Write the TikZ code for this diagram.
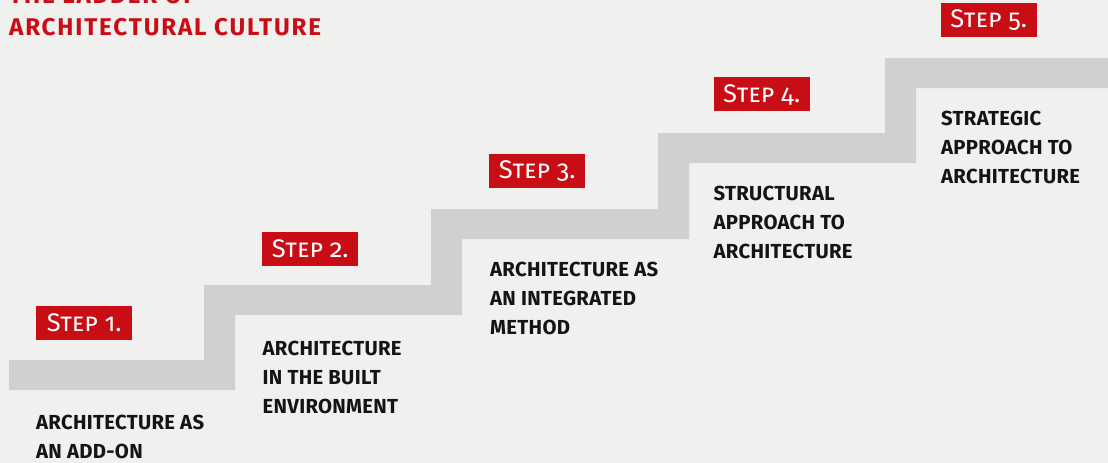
\documentclass[tikz,border=0pt]{standalone}
\usepackage{fontspec}
\setmainfont{Fira Sans}
\newfontfamily\stepfont[Numbers=OldStyle]{Fira Sans}
\newfontfamily\titlefont[LetterSpace=7.5]{Fira Sans}
\newfontfamily\descfont[LetterSpace=1.5]{Fira Sans}
\definecolor{bgc}{HTML}{F0F0EE}
\definecolor{bandc}{HTML}{D0D0D0}
\definecolor{redc}{HTML}{C90D15}
\definecolor{inkc}{HTML}{141414}
\tikzset{
  titletext/.style={anchor=base west, inner sep=0pt, text=redc, font=\titlefont\fontsize{24.2}{24.2}\selectfont\bfseries},
  steplabel/.style={fill=redc, text=white, inner xsep=0pt, inner ysep=0pt, minimum width=96pt,
     text height=25pt, text depth=9pt, font=\stepfont\fontsize{25.5}{25.5}\selectfont},
  desc/.style={anchor=base west, inner sep=0pt, text=inkc, font=\descfont\fontsize{20.3}{29.3}\selectfont\bfseries}
}
\newcommand\lns[1]{\vtop{\baselineskip=29.3pt\halign{##\hfil\cr#1\crcr}}}
\begin{document}
\begin{tikzpicture}[x=1pt,y=-1pt]
\useasboundingbox (0,0) rectangle (1108,463);
\fill[bgc] (0,0) rectangle (1108,463);
\clip (0,0) rectangle (1108,463);
\fill[bandc] (9,360) -- (204,360) -- (204,285) -- (431,285) -- (431,209) -- (658,209) -- (658,133)
  -- (885,133) -- (885,58) -- (1108,58) -- (1108,88) -- (916,88) -- (916,163) -- (689,163)
  -- (689,239) -- (462,239) -- (462,315) -- (235,315) -- (235,390) -- (9,390) -- cycle;
\node[titletext] (t1) at (9,4) {THE LADDER OF};
\node[titletext] (t2) at (9,35) {ARCHITECTURAL CULTURE};
\node[steplabel, anchor=north west] (s1) at (36,306) {\textsc{Step 1.}};
\node[steplabel, anchor=north west] (s2) at (262,232) {\textsc{Step 2.}};
\node[steplabel, anchor=north west] (s3) at (489,153.5) {\textsc{Step 3.}};
\node[steplabel, anchor=north west] (s4) at (713.5,77) {\textsc{Step 4.}};
\node[steplabel, anchor=north west] (s5) at (940.5,2.5) {\textsc{Step 5.}};
\node[desc] (d1) at (36,429) {\lns{ARCHITECTURE AS\cr AN ADD-ON}};
\node[desc] (d2) at (262.5,355) {\lns{ARCHITECTURE\cr IN THE BUILT\cr ENVIRONMENT}};
\node[desc] (d3) at (490,276) {\lns{ARCHITECTURE AS\cr AN INTEGRATED\cr METHOD}};
\node[desc] (d4) at (713.5,200) {\lns{STRUCTURAL\cr APPROACH TO\cr ARCHITECTURE}};
\node[desc] (d5) at (941,125) {\lns{STRATEGIC\cr APPROACH TO\cr ARCHITECTURE}};
\end{tikzpicture}
\end{document}
